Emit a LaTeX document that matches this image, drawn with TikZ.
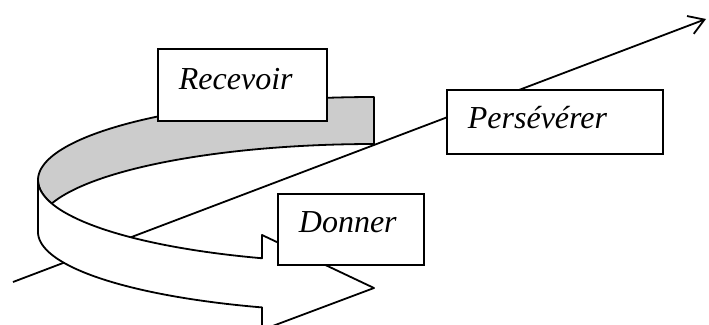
\documentclass[tikz,border=0pt]{standalone}
\usepackage{fontspec}
\setmainfont{Liberation Serif}
\usetikzlibrary{arrows.meta}
\begin{document}
\begin{tikzpicture}[x=1pt,y=-1pt,
  edge/.style={line width=1.8pt, line join=round},
  inner face/.style={edge, fill=gray!40},
  outer face/.style={edge, fill=white},
  label box/.style={draw, line width=1.8pt, fill=white, anchor=north west,
    inner xsep=21pt, inner ysep=0pt, align=left,
    font=\fontsize{32}{38}\selectfont\itshape},
]
\clip (0,0) rectangle (709,324);

% long rising arrow, partly hidden by the ribbon and the boxes
\coordinate (tail) at (13,282);
\coordinate (head) at (706,19);
\draw[edge, -{Straight Barb[length=15pt,width=19pt]}] (tail) -- (head);

% curved 3D ribbon arrow: inner (back) surface
\filldraw[inner face]
  plot[domain=270:163.6, samples=90] ({374+336*cos(\x)},{180+83*sin(\x)})
  -- plot[domain=196.4:270, samples=90] ({374+336*cos(\x)},{227+83*sin(\x)})
  -- cycle;

% outer (front) surface ending in the arrow head
\coordinate (barbU) at (262,235);
\coordinate (tip)   at (374,288);
\coordinate (barbL) at (262,330);
\filldraw[outer face]
  plot[domain=180:109.47, samples=90] ({374+336*cos(\x)},{180+83*sin(\x)})
  -- (barbU) -- (tip) -- (barbL)
  -- plot[domain=109.47:180, samples=90] ({374+336*cos(\x)},{232+80*sin(\x)})
  -- cycle;

% labels
\node[label box, text width=127pt, text height=41pt, text depth=31pt]
  (recevoir) at (157,48) {Recevoir};
\node[label box, text width=174pt, text height=39pt, text depth=25pt]
  (perseverer) at (446,89) {Persévérer};
\node[label box, text width=104pt, text height=39pt, text depth=32pt]
  (donner) at (277,193) {Donner};
\end{tikzpicture}
\end{document}
